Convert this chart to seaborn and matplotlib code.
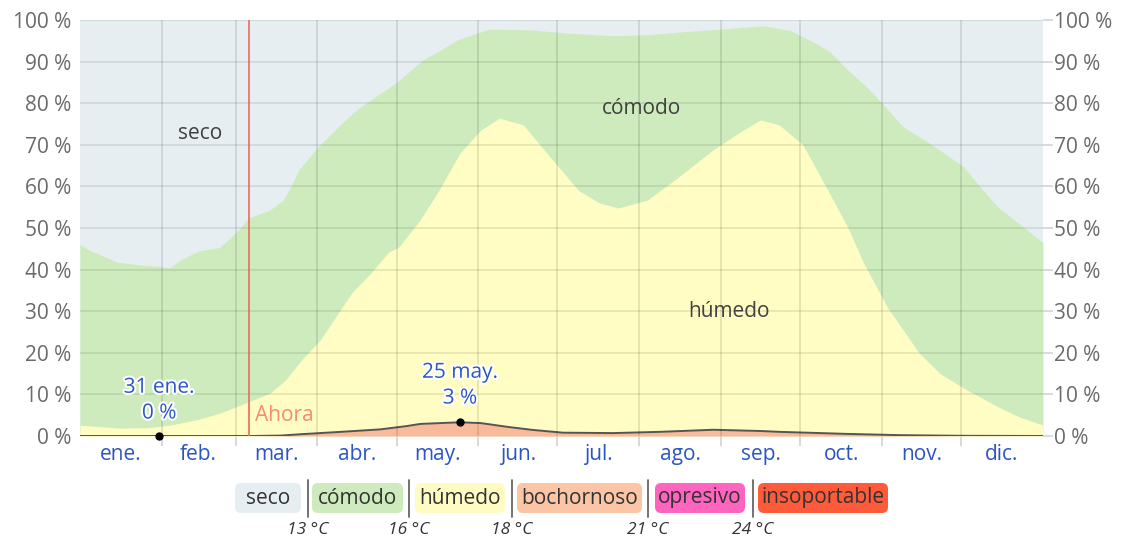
import numpy as np
import pandas as pd
import seaborn as sns
import matplotlib.pyplot as plt
import matplotlib.patheffects as pe
from matplotlib.lines import Line2D
from matplotlib.patches import FancyBboxPatch
from matplotlib.transforms import IdentityTransform

# day of year (0 = 1 ene.) and cumulative % of time at or above each level
comodo_days = [0, 4, 8, 14, 23, 30, 34, 38, 45, 53, 60, 64, 72, 77, 80, 83, 91, 99, 106, 114, 120,
               130, 136, 143, 155, 171, 186, 202, 216, 227, 243, 259, 269, 278, 284, 291, 298,
               304, 312, 322, 335, 341, 348, 356, 365]
comodo_pct = [46, 44.5, 43.5, 41.8, 41.1, 40.8, 40.4, 42.3, 44.5, 45.3, 49.5, 52.4, 54.3, 56.7, 60,
              64, 70, 75, 79, 82.4, 85, 90.4, 92.5, 95.2, 97.8, 97.6, 96.8, 96.2, 96.5, 97.1,
              97.8, 98.6, 97.5, 94.7, 92.5, 88, 84, 80, 74.3, 70.4, 64.7, 60, 55, 51, 46.5]

humedo_days = [0, 15, 26, 34, 45, 53, 64, 72, 78, 84, 91, 103, 110, 117, 121, 129, 136, 144, 152,
               159, 168, 177, 189, 197, 204, 215, 227, 240, 250, 258, 265, 274, 282, 291, 297,
               306, 318, 326, 335, 348, 356, 365]
humedo_pct = [2.6, 1.9, 2.0, 2.6, 4, 5.5, 8.2, 10.3, 13.5, 18.3, 23, 34.4, 39, 44.2, 45.5, 52, 59,
              68, 73.6, 76.4, 74.8, 68, 59, 56, 54.8, 56.7, 62.3, 68.8, 73, 76, 74.8, 70, 60.8,
              50.2, 41.6, 31, 20, 15, 11.5, 7, 4.6, 2.6]

bochorno_days = [0, 30, 65, 76, 83, 99, 114, 124, 129, 144, 152, 162, 171, 183, 202, 220, 240,
                 258, 265, 291, 311, 334, 365]
bochorno_pct = [0, 0, 0, 0.1, 0.4, 1.0, 1.6, 2.4, 2.9, 3.3, 3.1, 2.2, 1.5, 0.8, 0.7, 1.0, 1.5,
                1.2, 1.0, 0.5, 0.2, 0.05, 0]

month_starts = [0, 31, 59, 90, 120, 151, 181, 212, 243, 273, 304, 334, 365]
month_labels = ['ene.', 'feb.', 'mar.', 'abr.', 'may.', 'jun.',
                'jul.', 'ago.', 'sep.', 'oct.', 'nov.', 'dic.']
y_ticks = list(range(0, 101, 10))

now_day = 64
min_day, min_pct, min_text = 30, 0, '31 ene.\n0 %'
max_day, max_pct, max_text = 144, 3.3, '25 may.\n3 %'

legend_names = ['seco', 'cómodo', 'húmedo', 'bochornoso', 'opresivo', 'insoportable']
legend_colors = ['#e6eef2', '#cdebbc', '#fffcc3', '#fcc5a5', '#ff64bf', '#ff5b3b']
temp_labels = ['13 °C', '16 °C', '18 °C', '21 °C', '24 °C']

sns.set_theme(style='white')
plt.rcParams['font.family'] = ['Open Sans', 'DejaVu Sans']

FS = 15
fig = plt.figure(figsize=(11.23, 5.39), dpi=100)
ax = fig.add_axes([0.0712, 0.1911, 0.8575, 0.7718])
ax.set_facecolor(legend_colors[0])

# layered areas, each from 0 up to its own boundary
ax.fill_between(comodo_days, 0, comodo_pct, color=legend_colors[1], lw=0, zorder=1)
ax.fill_between(humedo_days, 0, humedo_pct, color='#fffdc3', lw=0, zorder=2)
ax.fill_between(bochorno_days, 0, bochorno_pct, color='#f9b99b', lw=0, zorder=3)
df = pd.DataFrame({'day': bochorno_days, 'pct': bochorno_pct})
sns.lineplot(data=df, x='day', y='pct', ax=ax, color='#555555', lw=1.4, zorder=4)

ax.set_xlim(0, 365)
ax.set_ylim(0, 100)

# grid
for d in month_starts[1:-1]:
    ax.axvline(d, color='#000000', alpha=0.11, lw=1.3, zorder=5)
for v in y_ticks[1:]:
    ax.axhline(v, color='#000000', alpha=0.09, lw=1.3, zorder=5)

for s in ax.spines.values():
    s.set_visible(False)

ax.set_xlabel('')
ax.set_ylabel('')
ax.set_xticks(month_starts[1:-1])
ax.set_xticklabels([])
ax.tick_params(axis='x', which='major', length=7, color='#d5d5d5', width=1.3, bottom=True)
mids = [(a + b) / 2 for a, b in zip(month_starts[:-1], month_starts[1:])]
ax.set_xticks(mids, minor=True)
ax.set_xticklabels(month_labels, minor=True, color='#2b55c5', fontsize=FS)
ax.tick_params(axis='x', which='minor', length=0, pad=6)

ax.set_yticks(y_ticks)
ax.set_yticklabels([f'{v} %' for v in y_ticks], color='#6a6a6a', fontsize=FS)
ax.tick_params(axis='y', length=0, pad=6)

ax2 = ax.twinx()
ax2.set_ylim(0, 100)
ax2.set_yticks(y_ticks)
ax2.set_yticklabels([f'{v} %' for v in y_ticks], color='#6a6a6a', fontsize=FS)
ax2.tick_params(axis='y', length=7, color='#d8d8d8', width=1.3, pad=1)
ax2.grid(False)
for s in ax2.spines.values():
    s.set_visible(False)

# now line
ax.axvline(now_day, color='#ec6a5c', lw=1.2, zorder=6)
ax.text(now_day + 2.5, 5, 'Ahora', color='#f48a78', fontsize=FS, va='center', ha='left', zorder=7)

# region labels
ax.text(45.5, 72.8, 'seco', color='#404040', fontsize=FS, ha='center', va='center', zorder=7)
ax.text(213, 78.8, 'cómodo', color='#404040', fontsize=FS, ha='center', va='center', zorder=7)
ax.text(246, 30, 'húmedo', color='#404040', fontsize=FS, ha='center', va='center', zorder=7)

# min / max markers
halo = [pe.withStroke(linewidth=3, foreground='white')]
ax.plot([min_day, max_day], [min_pct, max_pct], 'o', color='black', ms=5, zorder=8, clip_on=False)
ax.text(min_day, 3.0, min_text, color='#2b55c5', fontsize=FS, ha='center', va='bottom',
        linespacing=1.3, path_effects=halo, zorder=8)
ax.text(max_day, 6.6, max_text, color='#2b55c5', fontsize=FS, ha='center', va='bottom',
        linespacing=1.3, path_effects=halo, zorder=8)

# legend strip (pixel layout)
W, H = 1123, 539
box_x = [(235, 301), (312, 403), (415, 505), (517, 642), (655, 745), (758, 888)]
y0, y1 = H - 513, H - 483
for name, col, (bx0, bx1) in zip(legend_names, legend_colors, box_x):
    fig.add_artist(FancyBboxPatch((bx0 + 4, y0 + 4), bx1 - bx0 - 8, y1 - y0 - 8,
                                  boxstyle='round,pad=4,rounding_size=6', fc=col, ec='none',
                                  transform=IdentityTransform()))
    fig.text((bx0 + bx1) / 2 / W, (y0 + y1) / 2 / H, name, color='#333333', fontsize=FS,
             ha='center', va='center')
seps = [308, 409, 512, 648, 753]
for sx, t in zip(seps, temp_labels):
    fig.add_artist(Line2D([sx / W, sx / W], [1 - 480 / H, 1 - 517 / H], color='#666666', lw=1.3))
    fig.text(sx / W, 1 - 530 / H, t, color='#333333', fontsize=12.5, style='italic',
             ha='center', va='center')

fig.savefig('out.png', dpi=100)
